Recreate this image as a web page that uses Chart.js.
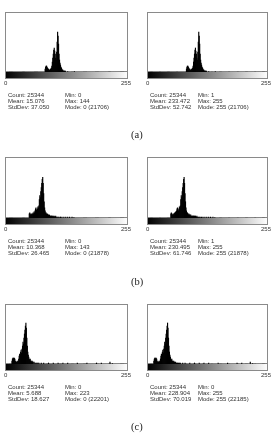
<!DOCTYPE html>
<html><head><meta charset="utf-8">
<script src="https://cdn.jsdelivr.net/npm/chart.js@4/dist/chart.umd.min.js"></script>
<style>
html,body{margin:0;padding:0;background:#fff;}
body{width:276px;height:436px;position:relative;overflow:hidden;font-family:"Liberation Sans",Arial,sans-serif;}
canvas{position:absolute;}
.t{position:absolute;font-size:6px;color:#333;white-space:nowrap;line-height:6px;}
.lab{position:absolute;font-family:"Liberation Serif","Times New Roman",serif;font-size:10.5px;color:#222;}
</style></head><body>
<script>
// x-axis tick labels
const tickLabels = ["0", "255"];
const panelLabels = ["(a)", "(b)", "(c)"];
// histogram (a): bins and counts
const binsA   = [83,84,85,86,87,88,89,90,91,92,93,94,95,96,97,98,99,100,101,102,103,104,105,106,107,108,109,110,111,112,113,114,115,116,117,118,119,120,121,122,123,124,125,130,144];
const countsA = [30,50,60,60,50,40,30,30,20,20,20,30,30,40,60,100,140,180,220,240,210,180,140,120,200,300,400,360,280,180,120,90,70,50,40,30,20,20,10,10,10,10,10,5,5];
// histogram (b)
const binsB   = [50,51,52,53,54,55,56,57,58,59,60,61,62,63,64,65,66,67,68,69,70,71,72,73,74,75,76,77,78,79,80,81,82,83,84,85,86,87,88,89,90,91,92,93,94,95,96,97,98,99,100,101,102,103,104,105,106,108,110,112,115,118,122,126,130,134,139,143];
const countsB = [40,50,40,30,30,40,30,40,50,40,60,50,70,90,100,80,70,90,110,100,120,180,220,200,260,300,340,380,400,340,240,160,100,70,50,50,40,30,40,30,30,20,30,20,20,20,20,20,20,10,20,10,20,10,10,20,10,10,10,10,10,10,10,10,10,10,10,5];
// histogram (c)
const binsC   = [14,15,16,17,18,19,20,21,22,23,24,25,26,27,28,29,30,31,32,33,34,35,36,37,38,39,40,41,42,43,44,45,46,47,48,49,50,51,52,53,54,55,56,57,58,60,62,64,66,68,70,75,80,90,100,110,120,130,150,170,190,200,218,223];
const countsC = [30,50,60,60,50,60,50,30,20,20,20,30,20,30,50,80,100,90,120,140,110,150,180,220,200,260,300,340,380,410,360,260,180,120,90,70,50,40,50,30,30,20,30,20,20,20,10,10,10,10,10,10,10,10,10,10,10,10,10,10,10,10,20,5];
// statistics text
const statsLeft = [
  ["Count: 25344","Mean: 15.076","StdDev: 37.050"],
  ["Count: 25344","Mean: 10.368","StdDev: 26.465"],
  ["Count: 25344","Mean: 5.688","StdDev: 18.627"]
];
const statsLeft2 = [
  ["Min: 0","Max: 144","Mode: 0 (21706)"],
  ["Min: 0","Max: 143","Mode: 0 (21878)"],
  ["Min: 0","Max: 223","Mode: 0 (22201)"]
];
const statsRight = [
  ["Count: 25344","Mean: 233.472","StdDev: 52.742"],
  ["Count: 25344","Mean: 230.495","StdDev: 61.746"],
  ["Count: 25344","Mean: 228.904","StdDev: 70.019"]
];
const statsRight2 = [
  ["Min: 1","Max: 255","Mode: 255 (21706)"],
  ["Min: 1","Max: 255","Mode: 255 (21878)"],
  ["Min: 0","Max: 255","Mode: 255 (22185)"]
];

function fullHist(bins, counts){
  const a = new Array(256).fill(0);
  bins.forEach((b,i)=>{ a[b] = counts[i]; });
  return a;
}
const hists = [fullHist(binsA,countsA), fullHist(binsB,countsB), fullHist(binsC,countsC)];
const labels = Array.from({length:256},(_,i)=>String(i));

const framePlugin = {
  id:'frame',
  afterDraw(chart){
    const ctx = chart.ctx, a = chart.chartArea;
    ctx.save();
    const g = ctx.createLinearGradient(a.left,0,a.right,0);
    g.addColorStop(0,'#000'); g.addColorStop(1,'#fff');
    ctx.fillStyle = g;
    ctx.fillRect(a.left, a.bottom, a.right-a.left, 6);
    ctx.strokeStyle = '#8a8a8a'; ctx.lineWidth = 1;
    ctx.strokeRect(Math.round(a.left)+0.5, Math.round(a.top)+0.5, Math.round(a.right-a.left)-1, Math.round(a.bottom-a.top)+6);
    ctx.restore();
  }
};

const rows = [{top:12,h:60,lab:135},{top:157,h:61,lab:282},{top:304,h:60,lab:427}];
const cols = [{left:5,right:128},{left:147,right:268}];

rows.forEach((r,ri)=>{
  cols.forEach((c,ci)=>{
    const cv = document.createElement('canvas');
    const cl = c.left-5, ct = r.top-5;
    const w = (c.right+5)-cl, h = r.h+15;
    cv.style.left = cl+'px'; cv.style.top = ct+'px';
    cv.style.width = w+'px'; cv.style.height = h+'px';
    cv.width = w; cv.height = h;
    document.body.appendChild(cv);
    new Chart(cv,{
      type:'bar',
      data:{labels, datasets:[{data:hists[ri], backgroundColor:'#000', borderWidth:0, barPercentage:1, categoryPercentage:1}]},
      options:{
        responsive:false, animation:false, devicePixelRatio:1,
        layout:{padding:{left:5,right:5,top:5,bottom:10}},
        plugins:{legend:{display:false},tooltip:{enabled:false}},
        scales:{x:{display:false},y:{display:false,min:0,max:600}}
      },
      plugins:[framePlugin]
    });
    // tick labels
    const t0 = document.createElement('div'); t0.className='t';
    t0.textContent = tickLabels[0]; t0.style.left=(c.left-1)+'px'; t0.style.top=(r.top+r.h+8)+'px';
    document.body.appendChild(t0);
    const t1 = document.createElement('div'); t1.className='t';
    t1.textContent = tickLabels[1]; t1.style.left=(c.right-7)+'px'; t1.style.top=(r.top+r.h+8)+'px';
    document.body.appendChild(t1);
    // stats
    const s1 = ci===0?statsLeft[ri]:statsRight[ri];
    const s2 = ci===0?statsLeft2[ri]:statsRight2[ri];
    const x1 = ci===0?8:150, x2 = ci===0?65:198;
    s1.forEach((txt,k)=>{
      const d=document.createElement('div'); d.className='t'; d.textContent=txt;
      d.style.left=x1+'px'; d.style.top=(r.top+r.h+20+k*6)+'px'; document.body.appendChild(d);
    });
    s2.forEach((txt,k)=>{
      const d=document.createElement('div'); d.className='t'; d.textContent=txt;
      d.style.left=x2+'px'; d.style.top=(r.top+r.h+20+k*6)+'px'; document.body.appendChild(d);
    });
  });
  const L = document.createElement('div'); L.className='lab'; L.textContent = panelLabels[ri];
  L.style.left='131px'; L.style.top=(r.lab-6)+'px';
  document.body.appendChild(L);
});
</script>
</body></html>
